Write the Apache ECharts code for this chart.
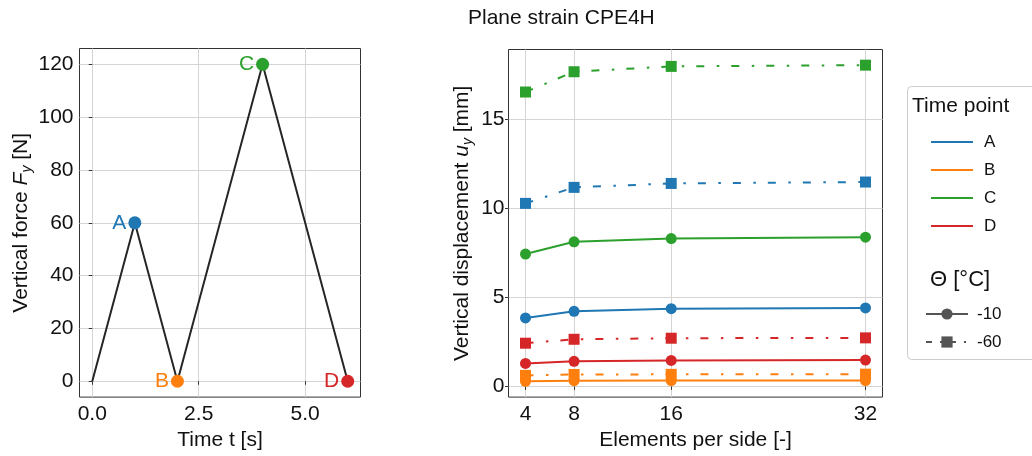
<!DOCTYPE html>
<html>
<head>
<meta charset="utf-8">
<script src="https://cdn.jsdelivr.net/npm/echarts@6/dist/echarts.min.js"></script>
<style>
html,body{margin:0;padding:0;background:#fff;}
#chart{width:1032px;height:456px;}
</style>
</head>
<body>
<div id="chart"></div>
<script>
// ---- Data ----
const forceTime = [0, 1, 2, 4, 6];
const forceValues = [0, 60, 0, 120, 0];
const pointNames = ['A', 'B', 'C', 'D'];
const pointTimes = [1, 2, 4, 6];
const pointForces = [60, 0, 120, 0];
const leftXTicks = [0, 2.5, 5];
const leftYTicks = [0, 20, 40, 60, 80, 100, 120];

const elements = [4, 8, 16, 32];
const rightYTicks = [0, 5, 10, 15];
const dispA_m10 = [3.85, 4.22, 4.37, 4.41];
const dispB_m10 = [0.29, 0.32, 0.33, 0.33];
const dispC_m10 = [7.44, 8.13, 8.31, 8.39];
const dispD_m10 = [1.29, 1.41, 1.46, 1.48];
const dispA_m60 = [10.29, 11.19, 11.41, 11.49];
const dispB_m60 = [0.62, 0.67, 0.68, 0.69];
const dispC_m60 = [16.55, 17.69, 17.99, 18.06];
const dispD_m60 = [2.43, 2.65, 2.71, 2.73];
const temps = ['-10', '-60'];

// ---- Styling ----
const FONT = 'Liberation Sans';
const colors = {A: '#1f77b4', B: '#ff7f0e', C: '#2ca02c', D: '#d62728'};
const gridCol = '#d4d4d4';
const frameCol = '#333333';
const dashDot = [8, 12.5, 2.5, 12];

const m10 = {A: dispA_m10, B: dispB_m10, C: dispC_m10, D: dispD_m10};
const m60 = {A: dispA_m60, B: dispB_m60, C: dispC_m60, D: dispD_m60};

function pairs(xs, ys) { return xs.map((x, i) => [x, ys[i]]); }

function axisCommon(ticks, min, max, fmt, margin) {
  return {
    type: 'value', min: min, max: max,
    axisLine: {show: false},
    axisTick: {show: true, length: 3.5, inside: false, customValues: ticks, lineStyle: {color: frameCol, width: 1}},
    axisLabel: {customValues: ticks, fontFamily: FONT, fontSize: 21, color: '#111', margin: margin, formatter: fmt},
    splitLine: {show: true, lineStyle: {color: gridCol, width: 1}}
  };
}

const series = [];
// left plot
series.push({
  type: 'line', xAxisIndex: 0, yAxisIndex: 0,
  data: pairs(forceTime, forceValues),
  symbol: 'none', lineStyle: {color: '#262626', width: 2}, z: 2, silent: true
});
pointNames.forEach((n, i) => {
  series.push({
    type: 'scatter', xAxisIndex: 0, yAxisIndex: 0,
    data: [[pointTimes[i], pointForces[i]]],
    symbol: 'circle', symbolSize: 13,
    itemStyle: {color: colors[n], opacity: 1},
    label: {show: true, position: 'left', distance: 2, formatter: n, color: colors[n], fontFamily: FONT, fontSize: 21},
    z: 3, silent: true
  });
});
// right plot
pointNames.forEach(n => {
  series.push({
    name: n + ' ' + temps[0], type: 'line', xAxisIndex: 1, yAxisIndex: 1,
    data: pairs(elements, m10[n]),
    symbol: 'circle', symbolSize: 11, showSymbol: true,
    itemStyle: {color: colors[n]}, lineStyle: {color: colors[n], width: 2}, z: 3, silent: true
  });
  series.push({
    name: n + ' ' + temps[1], type: 'line', xAxisIndex: 1, yAxisIndex: 1,
    data: pairs(elements, m60[n]),
    symbol: 'rect', symbolSize: 11, showSymbol: true,
    itemStyle: {color: colors[n]}, lineStyle: {color: colors[n], width: 2, type: dashDot}, z: 4, silent: true
  });
});
// legend proxies (no data)
pointNames.forEach(n => {
  series.push({name: n, type: 'line', xAxisIndex: 1, yAxisIndex: 1, data: [], symbol: 'none',
    itemStyle: {color: colors[n]}, lineStyle: {color: colors[n], width: 2.5}});
});
series.push({name: temps[0], type: 'line', xAxisIndex: 1, yAxisIndex: 1, data: [], symbol: 'circle', symbolSize: 9,
  itemStyle: {color: '#555'}, lineStyle: {color: '#555', width: 2.5}});
series.push({name: temps[1], type: 'line', xAxisIndex: 1, yAxisIndex: 1, data: [], symbol: 'rect', symbolSize: 10,
  itemStyle: {color: '#555'}, lineStyle: {color: '#555', width: 2.5, type: [6, 8, 2, 8]}});

const nameRich = {
  n: {fontFamily: FONT, fontSize: 21, color: '#111', lineHeight: 26},
  i: {fontFamily: FONT, fontSize: 21, fontStyle: 'italic', color: '#111', lineHeight: 26},
  s: {fontFamily: FONT, fontSize: 14, fontStyle: 'italic', color: '#111', lineHeight: 20, verticalAlign: 'bottom'}
};

const option = {
  animation: false,
  backgroundColor: '#ffffff',
  title: [
    {text: 'Plane strain CPE4H', left: 468, top: 8, padding: 0,
      textStyle: {fontFamily: FONT, fontSize: 21, fontWeight: 'normal', color: '#111'}},
    {text: 'Time point', left: 912, top: 96, padding: 0,
      textStyle: {fontFamily: FONT, fontSize: 21, fontWeight: 'normal', color: '#111'}},
    {text: 'Θ [°C]', left: 930, top: 269, padding: 0,
      textStyle: {fontFamily: FONT, fontSize: 22, fontWeight: 'normal', color: '#111'}}
  ],
  graphic: [{
    type: 'rect', z: -1,
    shape: {x: 907.5, y: 86.5, width: 140, height: 273, r: 4},
    style: {fill: '#ffffff', stroke: '#cccccc', lineWidth: 1}
  }],
  legend: [
    {data: pointNames.map(n => ({name: n, itemStyle: {opacity: 0}})), orient: 'vertical', left: 925, top: 127,
      itemWidth: 42, itemHeight: 14, itemGap: 8, selectedMode: false,
      textStyle: {fontFamily: FONT, fontSize: 17, color: '#111', lineHeight: 20, padding: [0, 0, 0, 6]}},
    {data: temps, orient: 'vertical', left: 920, top: 299, itemWidth: 42, itemHeight: 14, itemGap: 8,
      selectedMode: false, textStyle: {fontFamily: FONT, fontSize: 17, color: '#111', lineHeight: 20, padding: [0, 0, 0, 4]}}
  ],
  grid: [
    {left: 79.5, top: 48.5, width: 281, height: 349, show: true, borderColor: frameCol, borderWidth: 1, backgroundColor: 'transparent', containLabel: false},
    {left: 508.5, top: 49.5, width: 374, height: 348, show: true, borderColor: frameCol, borderWidth: 1, backgroundColor: 'transparent', containLabel: false}
  ],
  xAxis: [
    Object.assign(axisCommon(leftXTicks, -0.3, 6.3, v => v.toFixed(1), 7), {
      gridIndex: 0, name: 'Time t [s]', nameLocation: 'middle', nameGap: 30,
      nameTextStyle: {fontFamily: FONT, fontSize: 21, color: '#111'}
    }),
    Object.assign(axisCommon(elements, 2.6, 33.4, v => String(v), 7), {
      gridIndex: 1, name: 'Elements per side [-]', nameLocation: 'middle', nameGap: 30,
      nameTextStyle: {fontFamily: FONT, fontSize: 21, color: '#111'}
    })
  ],
  yAxis: [
    Object.assign(axisCommon(leftYTicks, -6, 126, v => String(v), 6), {
      gridIndex: 0, name: '{n|Vertical force }{i|F}{s|y}{n| [N]}', nameLocation: 'middle', nameGap: 44,
      nameTextStyle: {rich: nameRich}
    }),
    Object.assign(axisCommon(rightYTicks, -0.6, 18.94, v => String(v), 4), {
      gridIndex: 1, name: '{n|Vertical displacement }{i|u}{s|y}{n| [mm]}', nameLocation: 'middle', nameGap: 33,
      nameTextStyle: {rich: nameRich}
    })
  ],
  series: series
};

const chart = echarts.init(document.getElementById('chart'), null, {renderer: 'canvas'});
chart.setOption(option);
</script>
</body>
</html>
